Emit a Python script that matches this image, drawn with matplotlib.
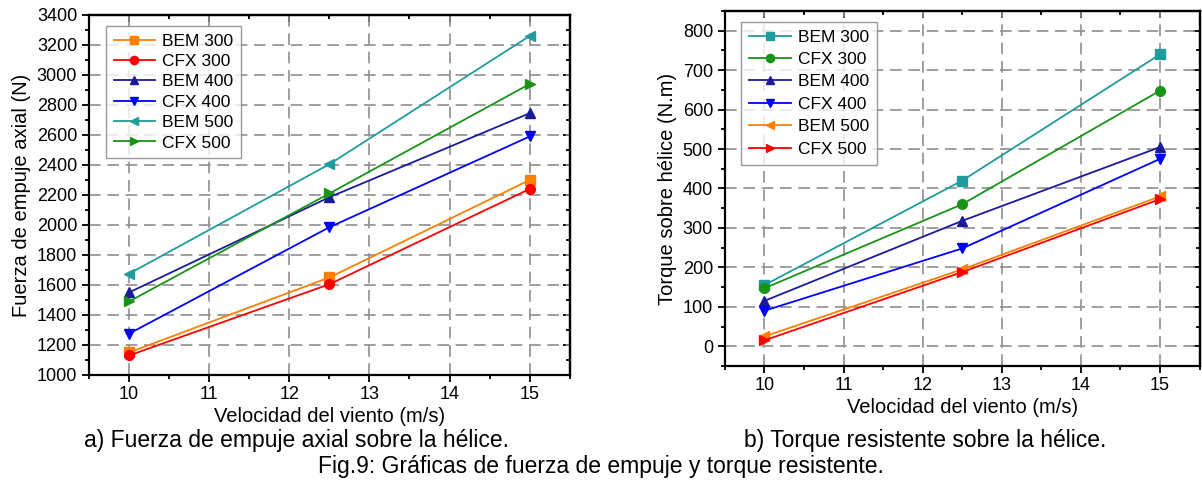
import matplotlib
matplotlib.use("Agg")
import matplotlib.pyplot as plt
from matplotlib.ticker import MultipleLocator

plt.rcParams['font.family'] = ['Liberation Sans', 'DejaVu Sans']

# --- Data ---
wind = [10, 12.5, 15]

# a) axial thrust (N)
thrust_labels = ["BEM 300", "CFX 300", "BEM 400", "CFX 400", "BEM 500", "CFX 500"]
bem300_thrust = [1150, 1650, 2300]
cfx300_thrust = [1130, 1605, 2240]
bem400_thrust = [1550, 2185, 2745]
cfx400_thrust = [1275, 1985, 2590]
bem500_thrust = [1675, 2405, 3260]
cfx500_thrust = [1490, 2210, 2940]

# b) resistant torque (N.m)
torque_labels = ["BEM 300", "CFX 300", "BEM 400", "CFX 400", "BEM 500", "CFX 500"]
bem300_torque = [155, 420, 740]
cfx300_torque = [147, 360, 648]
bem400_torque = [115, 318, 505]
cfx400_torque = [90, 248, 475]
bem500_torque = [25, 195, 380]
cfx500_torque = [15, 188, 373]

ORANGE = '#ff8000'
RED = '#ff0000'
NAVY = '#1a1a9a'
BLUE = '#0000ff'
TEAL = '#1f9c9c'
GREEN = '#179417'


def style_axes(ax, ymin, ymax, ymajor, yminor):
    ax.set_xlim(9.5, 15.5)
    ax.set_ylim(ymin, ymax)
    ax.xaxis.set_major_locator(MultipleLocator(1))
    ax.xaxis.set_minor_locator(MultipleLocator(0.5))
    ax.yaxis.set_major_locator(MultipleLocator(ymajor))
    ax.yaxis.set_minor_locator(MultipleLocator(yminor))
    ax.tick_params(which='both', direction='out', top=False, right=False,
                   labelsize=13, width=1.3, colors='black')
    ax.tick_params(which='major', length=5)
    ax.tick_params(which='minor', length=3)
    ax.tick_params(axis='x', pad=3)
    # mirrored inward ticks on top / right
    top = ax.secondary_xaxis('top')
    top.xaxis.set_major_locator(MultipleLocator(1))
    top.xaxis.set_minor_locator(MultipleLocator(0.5))
    top.tick_params(which='both', direction='in', labeltop=False, width=1.3)
    top.tick_params(which='major', length=5)
    top.tick_params(which='minor', length=3)
    right = ax.secondary_yaxis('right')
    right.yaxis.set_major_locator(MultipleLocator(ymajor))
    right.yaxis.set_minor_locator(MultipleLocator(yminor))
    right.tick_params(which='both', direction='in', labelright=False, width=1.3)
    right.tick_params(which='major', length=5)
    right.tick_params(which='minor', length=3)
    for sp in list(ax.spines.values()) + [top.spines['top'], right.spines['right']]:
        sp.set_linewidth(1.6)
    ax.grid(True, which='major', color='#8f8f8f', linestyle=(0, (7, 4)), linewidth=1.2)
    ax.set_axisbelow(True)
    ax.set_xlabel("Velocidad del viento (m/s)", fontsize=14.5, labelpad=3)


def draw(ax, series, labels, colors, markers, spacing):
    for ys, lab, c, m in zip(series, labels, colors, markers):
        ax.plot(wind, ys, color=c, marker=m, markersize=7, linewidth=1.3,
                label=lab, zorder=3)
    leg = ax.legend(loc='upper left', bbox_to_anchor=(0.035, 0.97), fontsize=12.5,
                    frameon=True, fancybox=False, edgecolor='#808080',
                    handlelength=2.4, handletextpad=0.4, labelspacing=spacing,
                    borderpad=0.45, borderaxespad=0.0, markerscale=0.85)
    leg.get_frame().set_linewidth(1.0)


fig = plt.figure(figsize=(12.02, 4.88), dpi=100)

ax1 = fig.add_axes([0.074, 0.2316, 0.400, 0.7377])
draw(ax1,
     [bem300_thrust, cfx300_thrust, bem400_thrust, cfx400_thrust, bem500_thrust, cfx500_thrust],
     thrust_labels,
     [ORANGE, RED, NAVY, BLUE, TEAL, GREEN],
     ['s', 'o', '^', 'v', '<', '>'], 0.3)
style_axes(ax1, 1000, 3400, 200, 100)
ax1.set_ylabel("Fuerza de empuje axial (N)", fontsize=14.5, labelpad=4)

ax2 = fig.add_axes([0.603, 0.25, 0.395, 0.7275])
draw(ax2,
     [bem300_torque, cfx300_torque, bem400_torque, cfx400_torque, bem500_torque, cfx500_torque],
     torque_labels,
     [TEAL, GREEN, NAVY, BLUE, ORANGE, RED],
     ['s', 'o', '^', 'v', '<', '>'], 0.42)
style_axes(ax2, -50, 850, 100, 50)
ax2.set_ylabel("Torque sobre hélice (N.m)", fontsize=14.5, labelpad=4)

fig.text(297 / 1202, 1 - 440 / 488, "a) Fuerza de empuje axial sobre la hélice.",
         ha='center', va='center', fontsize=16.5)
fig.text(925 / 1202, 1 - 440 / 488, "b) Torque resistente sobre la hélice.",
         ha='center', va='center', fontsize=16.5)
fig.text(601 / 1202, 1 - 466 / 488, "Fig.9: Gráficas de fuerza de empuje y torque resistente.",
         ha='center', va='center', fontsize=16.5)

fig.savefig("out.png", dpi=100)
